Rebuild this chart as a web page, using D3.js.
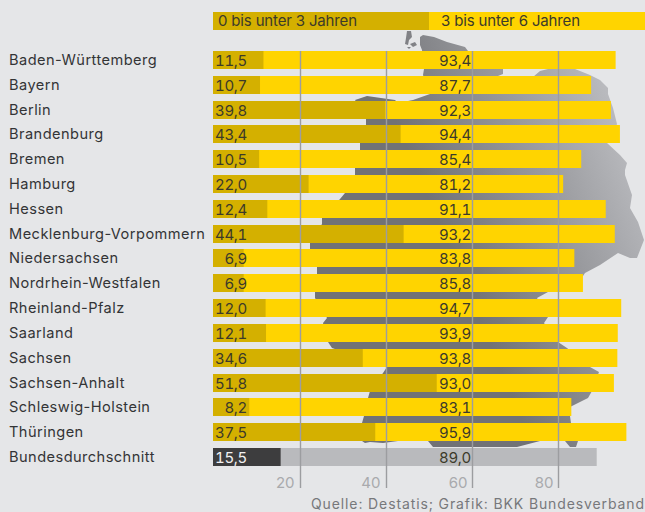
<!DOCTYPE html>
<html>
<head>
<meta charset="utf-8">
<script src="https://cdnjs.cloudflare.com/ajax/libs/d3/7.8.5/d3.min.js"></script>
<style>
html, body { margin: 0; padding: 0; background: #e5e6e8; }
svg { display: block; }
text { font-family: Inter, sans-serif; }
.value { font-variant-numeric: tabular-nums; letter-spacing: -0.3px; }
</style>
</head>
<body>
<div id="chart"></div>
<script>
const states = ["Baden-Württemberg", "Bayern", "Berlin", "Brandenburg", "Bremen", "Hamburg", "Hessen",
    "Mecklenburg-Vorpommern", "Niedersachsen", "Nordrhein-Westfalen", "Rheinland-Pfalz", "Saarland",
    "Sachsen", "Sachsen-Anhalt", "Schleswig-Holstein", "Thüringen", "Bundesdurchschnitt"];
const under3 = [11.5, 10.7, 39.8, 43.4, 10.5, 22.0, 12.4, 44.1, 6.9, 6.9, 12.0, 12.1, 34.6, 51.8, 8.2, 37.5, 15.5];
const from3to6 = [93.4, 87.7, 92.3, 94.4, 85.4, 81.2, 91.1, 93.2, 83.8, 85.8, 94.7, 93.9, 93.8, 93.0, 83.1, 95.9, 89.0];
const ticks = [20, 40, 60, 80];
const legendLabels = ["0 bis unter 3 Jahren", "3 bis unter 6 Jahren"];
const source = "Quelle: Destatis; Grafik: BKK Bundesverband";

// backdrop silhouette of Germany (page pixels)
const germany = [[420,37],[423,35],[434,37],[447,42],[465,47],[468,51],[470,60],[495,67],[503,69],[503,74],[498,76],
    [515,85],[533,77],[540,71],[548,69],[575,69],[590,75],[600,80],[608,88],[608,94],[613,108],[617,124],[612,137],
    [607,143],[620,155],[627,163],[625,170],[625,175],[632,195],[630,208],[638,222],[644,240],[637,258],[630,258],
    [618,253],[600,265],[585,273],[583,276],[565,285],[548,292],[537,298],[548,317],[544,323],[558,342],[567,348],
    [590,367],[599,372],[592,391],[588,398],[570,407],[570,416],[572,430],[578,441],[576,447],[570,447],[565,441],
    [540,441],[517,447],[433,447],[428,441],[398,441],[383,443],[370,442],[365,443],[362,441],[362,423],[364,416],
    [368,398],[370,391],[383,373],[387,367],[332,348],[328,342],[323,323],[327,318],[315,298],[315,292],[317,274],
    [317,267],[310,249],[310,243],[322,224],[322,218],[340,199],[345,193],[355,175],[355,168],[360,150],[360,143],
    [366,125],[366,119],[355,100],[367,96],[395,100],[398,103],[413,100],[430,94],[423,75],[424,69],[422,50],[420,45]];
const islands = [
    [[407,31],[411,31],[412,37],[409,40],[408,45],[405,44],[406,38]],
    [[410,44],[415,42],[417,45],[413,47]],
    [[407,47],[411,47],[409,49]]
];

const width = 645, height = 512;
const fmt = v => v.toFixed(1).replace(".", ",");

const svg = d3.select("#chart").append("svg")
    .attr("width", width)
    .attr("height", height);

const grad = svg.append("defs").append("linearGradient")
    .attr("id", "mapFill")
    .attr("gradientUnits", "userSpaceOnUse")
    .attr("x1", 450).attr("y1", 250)
    .attr("x2", 640).attr("y2", 170);
grad.append("stop").attr("offset", 0).attr("stop-color", "#717276");
grad.append("stop").attr("offset", 1).attr("stop-color", "#b9babe");

const xscale = d3.scaleLinear().domain([0, 100]).range([214, 644]);
const yscale = d3.scaleBand().domain(states).range([51, 466]).paddingInner(0.274);
const rowTop = d => Math.round(yscale(d));

// map first, everything else sits on it
const line = d3.line().curve(d3.curveLinearClosed);
svg.append("g").selectAll("path")
    .data([germany].concat(islands))
    .join("path")
    .attr("d", d => line(d))
    .attr("fill", "url(#mapFill)");

// legend
svg.append("rect").attr("x", 213).attr("y", 12).attr("width", 216).attr("height", 18).attr("fill", "#d4b000");
svg.append("rect").attr("x", 429).attr("y", 12).attr("width", 216).attr("height", 18).attr("fill", "#ffd400");
svg.selectAll(".legend")
    .data(legendLabels)
    .join("text")
    .attr("class", "legend")
    .attr("x", (d, i) => i ? 441 : 218)
    .attr("y", 26)
    .attr("font-size", 15)
    .attr("fill", "#3c3a2a")
    .attr("textLength", 139)
    .text(d => d);

// bars
const isAvg = i => i === states.length - 1;
const rows = states.map((s, i) => ({ name: s, a: under3[i], b: from3to6[i], i: i }));

svg.append("g").selectAll("rect")
    .data(rows)
    .join("rect")
    .attr("x", xscale(0) - 1)
    .attr("y", d => rowTop(d.name))
    .attr("width", d => xscale(d.b) - xscale(0) + 1)
    .attr("height", 18)
    .attr("fill", d => isAvg(d.i) ? "#b9babd" : "#ffd400");

svg.append("g").selectAll("rect")
    .data(rows)
    .join("rect")
    .attr("x", xscale(0) - 1)
    .attr("y", d => rowTop(d.name))
    .attr("width", d => xscale(d.a) - xscale(0) + 1)
    .attr("height", 18)
    .attr("fill", d => isAvg(d.i) ? "#3d3d3e" : "#d4b000");

// axis: the long ticks are the grid lines
const axis = svg.append("g")
    .attr("transform", "translate(0,488)")
    .call(d3.axisBottom(xscale).tickValues(ticks).tickSize(-437).tickFormat(d => d));
axis.select(".domain").remove();
axis.selectAll("line").attr("stroke", "#9c9da0").attr("stroke-width", 1.4);
axis.selectAll("text")
    .attr("x", d => d < 50 ? -6 : -5)
    .attr("y", 0)
    .attr("dy", 0)
    .attr("text-anchor", "end")
    .attr("font-size", 15)
    .attr("font-family", "Inter, sans-serif")
    .attr("fill", "#a9aaad");

// state names
svg.append("g").selectAll("text")
    .data(rows)
    .join("text")
    .attr("x", 9)
    .attr("y", d => rowTop(d.name) + 14)
    .attr("font-size", 14.6)
    .attr("letter-spacing", 0.45)
    .attr("fill", "#333436")
    .text(d => d.name);

// values
svg.append("g").selectAll("text")
    .data(rows)
    .join("text")
    .attr("class", "value")
    .attr("x", 247)
    .attr("y", d => rowTop(d.name) + 15)
    .attr("text-anchor", "end")
    .attr("font-size", 15)
    .attr("fill", d => isAvg(d.i) ? "#f2f2f2" : "#3c3a2a")
    .text(d => fmt(d.a));

svg.append("g").selectAll("text")
    .data(rows)
    .join("text")
    .attr("class", "value")
    .attr("x", 471)
    .attr("y", d => rowTop(d.name) + 15)
    .attr("text-anchor", "end")
    .attr("font-size", 15)
    .attr("fill", "#3c3a2a")
    .text(d => fmt(d.b));

svg.append("text")
    .attr("x", 311)
    .attr("y", 508.5)
    .attr("font-size", 14)
    .attr("fill", "#77787b")
    .attr("textLength", 333)
    .text(source);
</script>
</body>
</html>
